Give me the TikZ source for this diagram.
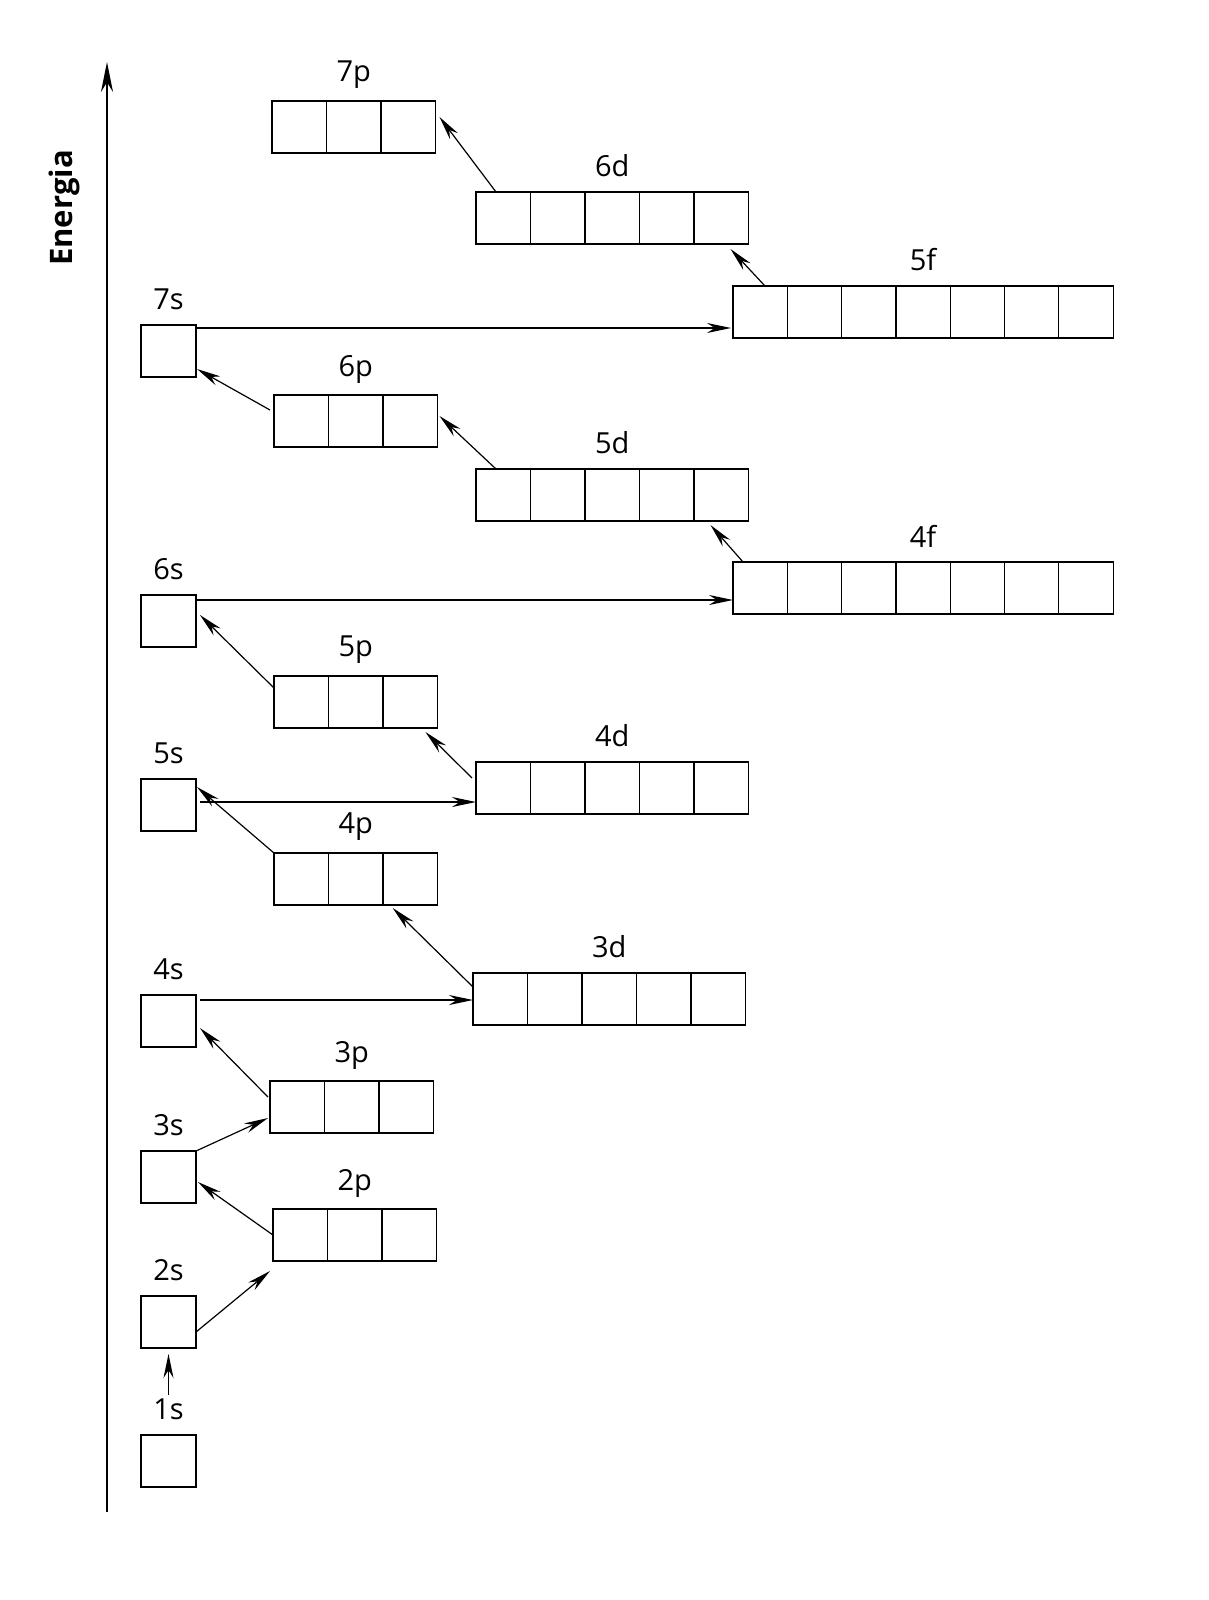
\documentclass[tikz,border=0pt]{standalone}
\usepackage{fontspec}
\setmainfont{Open Sans}
\usetikzlibrary{arrows.meta,calc}
\newcommand\orbital[6]{% name, x, y(top), cells, cellwidth, label
  \node[box, minimum width=#4*#5pt, anchor=north west] (#1) at (#2,#3) {};
  \foreach \i in {1,...,#4}{\ifnum\i<#4\draw[line width=1.2pt] ($(#1.north west)+(\i*#5,0)$) -- ($(#1.south west)+(\i*#5,0)$);\fi}
  \node[lab] (l#1) at ($(#1.north)+(0,-26)$) {#6};
}
\begin{document}
\begin{tikzpicture}[x=1pt,y=-1pt,
  box/.style={draw,line width=1.2pt,minimum height=52pt,inner sep=0,outer sep=0},
  lab/.style={font=\fontsize{29}{29}\selectfont},
  arr/.style={line width=1.2pt,-{Stealth[length=24pt,width=10pt]}}]
\useasboundingbox (0,0) rectangle (1208,1600);
\orbital{s1}{141}{1435}{1}{55}{1s}
\orbital{s2}{141}{1296}{1}{55}{2s}
\orbital{s3}{141}{1151}{1}{55}{3s}
\orbital{s4}{141}{995}{1}{55}{4s}
\orbital{s5}{141}{779}{1}{55}{5s}
\orbital{s6}{141}{595}{1}{55}{6s}
\orbital{s7}{141}{325}{1}{55}{7s}
\orbital{p2}{273}{1209}{3}{54.5}{2p}
\orbital{p3}{270}{1081}{3}{54.5}{3p}
\orbital{p4}{274}{853}{3}{54.5}{4p}
\orbital{p5}{274}{676}{3}{54.5}{5p}
\orbital{p6}{274}{395}{3}{54.5}{6p}
\orbital{p7}{272}{101}{3}{54.5}{7p}
\orbital{d3}{473}{973}{5}{54.5}{3d}
\orbital{d4}{476}{762}{5}{54.5}{4d}
\orbital{d5}{476}{469}{5}{54.5}{5d}
\orbital{d6}{476}{192}{5}{54.5}{6d}
\orbital{f4}{733}{562}{7}{54.3}{4f}
\orbital{f5}{733}{286}{7}{54.3}{5f}
\draw[line width=1.5pt,-{Stealth[length=30pt,width=12pt]}] (107,1512) -- (107,62);
\node[rotate=90,font=\bfseries\fontsize{31}{31}\selectfont] (en) at (64,208) {Energia};
\draw[arr] (ls1.north) -- ([shift={(0,6)}]s2.south);
\draw[arr] (s2.-20) -- ([shift={(-3,10)}]p2.south west);
\draw[arr] (p2.west) -- ([shift={(2,5)}]s3.east);
\draw[arr] (s3.north east) -- ([shift={(-2,-15)}]p3.south west);
\draw[arr] ([shift={(-2,-10)}]p3.west) -- ([shift={(4,-19)}]s4.south east);
\draw[arr] ([shift={(4,-21)}]s4.east) -- ([shift={(0,-21)}]s4.east -| d3.west);
\draw[arr] ([shift={(0,14)}]d3.north west) -- ([shift={(37,3)}]p4.south);
\draw[arr] (p4.north west) -- ([shift={(1,8)}]s5.north east);
\draw[arr] ([shift={(4,-3)}]s5.east) -- ([shift={(0,-3)}]s5.east -| d4.west);
\draw[arr] ([shift={(-4,16)}]d4.north west) -- ([shift={(-12,4)}]p5.south east);
\draw[arr] ([shift={(0,12)}]p5.north west) -- ([shift={(4,20)}]s6.north east);
\draw[arr] ([shift={(0,-21)}]s6.east) -- ([shift={(0,-21)}]s6.east -| f4.west);
\draw[arr] ([xshift=10]f4.north west) -- ([shift={(-38,4)}]d5.south east);
\draw[arr] ([xshift=20]d5.north west) -- ([shift={(2,-5)}]p6.east);
\draw[arr] ([shift={(-4,15)}]p6.north west) -- ([shift={(1,-8)}]s7.south east);
\draw[arr] ([shift={(0,-23)}]s7.east) -- ([shift={(-2,-23)}]s7.east -| f5.west);
\draw[arr] ([xshift=32]f5.north west) -- ([shift={(-18,5)}]d6.south east);
\draw[arr] ([xshift=20]d6.north west) -- ([shift={(4,-10)}]p7.east);
\end{tikzpicture}
\end{document}
